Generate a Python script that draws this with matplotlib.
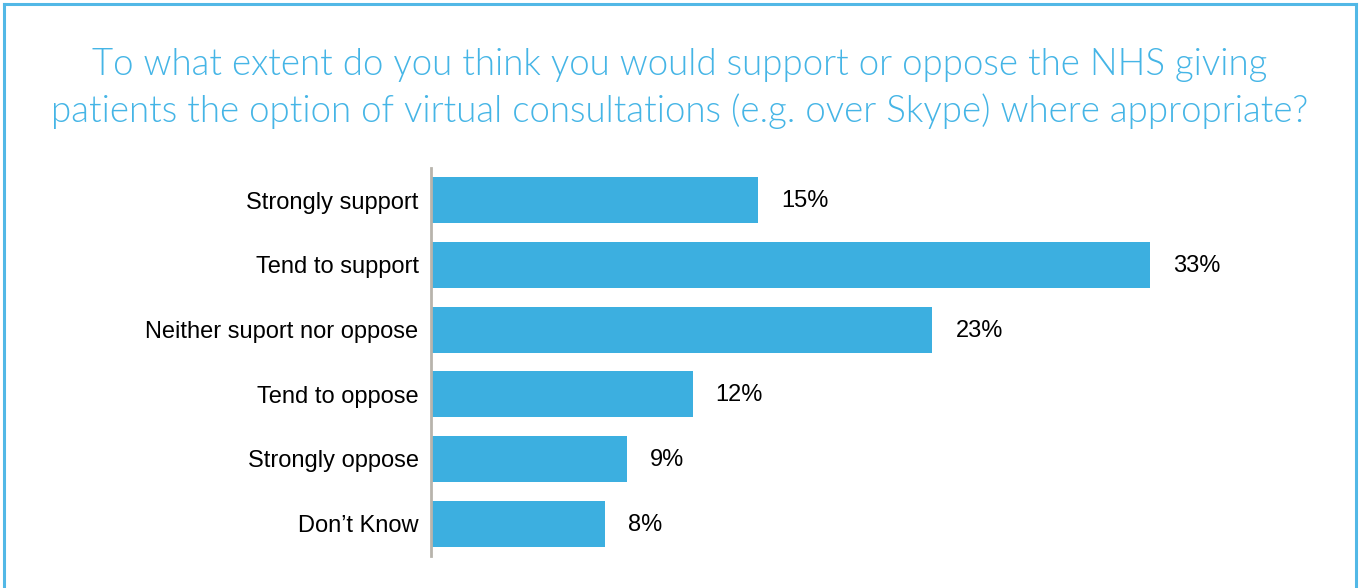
import matplotlib
matplotlib.use("Agg")
import matplotlib.pyplot as plt
from matplotlib.lines import Line2D

categories = ["Strongly support", "Tend to support", "Neither suport nor oppose",
              "Tend to oppose", "Strongly oppose", "Don\u2019t Know"]
values = [15, 33, 23, 12, 9, 8]
value_labels = ["15%", "33%", "23%", "12%", "9%", "8%"]
title = ("To what extent do you think you would support or oppose the NHS giving\n"
         "patients the option of virtual consultations (e.g. over Skype) where appropriate?")

BAR_COLOR = "#3CAFE0"
TITLE_COLOR = "#45B5E6"
FRAME_COLOR = "#52B8E6"
AXIS_COLOR = "#B8B4AC"

W, H = 1360, 588
fig = plt.figure(figsize=(W / 100, H / 100), dpi=100)

# frame around the panel (open at the bottom)
for xs, ys in [([4 / W, 4 / W], [0, 1 - 4 / H]),
               ([4 / W, 1356 / W], [1 - 4 / H, 1 - 4 / H]),
               ([1356 / W, 1356 / W], [0, 1 - 4 / H])]:
    fig.add_artist(Line2D(xs, ys, transform=fig.transFigure, color=FRAME_COLOR, lw=2.2))

fig.text(0.5, 1 - 88.5 / H, title, ha="center", va="center", color=TITLE_COLOR,
         fontsize=26.4, family="Lato", fontweight=300, linespacing=1.38)

x0 = 431
px_per_unit = 21.8
xmax = 40
ax = fig.add_axes([x0 / W, 1 - 556 / H, xmax * px_per_unit / W, (556 - 168) / H])

ypos = list(range(len(categories)))
ax.barh(ypos, values, height=0.71, color=BAR_COLOR, zorder=2)
ax.set_xlim(0, xmax)
ax.set_ylim(len(categories) - 0.5, -0.5)

for s in ["top", "right", "bottom"]:
    ax.spines[s].set_visible(False)
ax.spines["left"].set_color(AXIS_COLOR)
ax.spines["left"].set_linewidth(2)
ax.set_xticks([])
ax.set_yticks(ypos)
ax.set_yticklabels(categories, fontsize=17, family="Liberation Sans")
ax.tick_params(axis="y", length=0, pad=9)

for y, v, lab in zip(ypos, values, value_labels):
    ax.annotate(lab, (v, y), xytext=(23, -1), textcoords="offset pixels",
                ha="left", va="center", fontsize=17, family="Liberation Sans")

fig.savefig("out.png", dpi=100, facecolor="white")
